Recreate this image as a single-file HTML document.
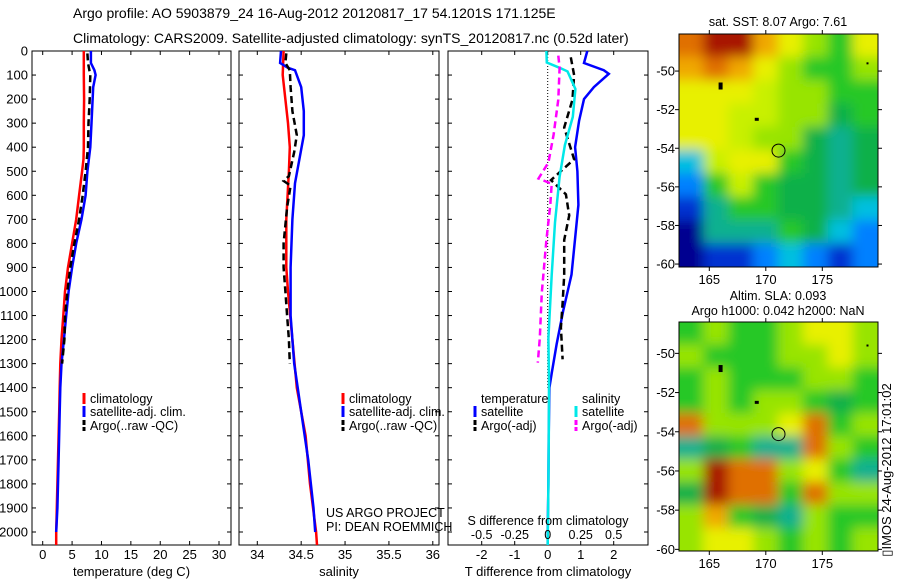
<!DOCTYPE html>
<html><head><meta charset="utf-8">
<style>
html,body{margin:0;padding:0;background:#fff;}
svg{display:block;font-family:"Liberation Sans",sans-serif;}
text{fill:#000;}
</style></head>
<body>
<svg id="fig" width="900" height="580" viewBox="0 0 900 580" xmlns="http://www.w3.org/2000/svg">
<defs>
<filter id="blur" x="-20%" y="-20%" width="140%" height="140%"><feGaussianBlur stdDeviation="6"/></filter>
<clipPath id="clipTop"><rect x="679" y="34" width="199" height="233"/></clipPath>
<clipPath id="clipBot"><rect x="679" y="322" width="199" height="229"/></clipPath>
</defs>
<text x="73" y="18" font-size="14">Argo profile: AO 5903879_24 16-Aug-2012 20120817_17 54.1201S 171.125E</text>
<text x="73" y="43" font-size="14">Climatology: CARS2009. Satellite-adjusted climatology: synTS_20120817.nc (0.52d later)</text>
<g id="p1"></g>
<g id="p2"></g>
<g id="p3"></g>
<g id="m1"></g>
<g id="m2"></g>
<text transform="translate(891,470) rotate(-90)" font-size="13" text-anchor="middle">▯IMOS 24-Aug-2012 17:01:02</text>
</svg>
<script>
// ---- data ----
const tClimDepth = [0,100,200,300,400,450,500,600,700,800,900,1000,1100,1200,1300,1400,1500,1700,1900,2000,2054];
const tClimVals  = [7.0,7.0,7.05,7.0,7.0,6.95,6.7,6.2,5.7,5.0,4.3,3.8,3.5,3.2,3.0,2.9,2.8,2.6,2.4,2.3,2.3];
const tSatDepth = [0,50,80,100,150,300,400,500,600,700,800,900,1000,1100,1200,1300,1400,1500,1700,1900,2000];
const tSatVals  = [8.2,8.2,8.8,9.0,8.6,8.3,8.1,7.6,7.3,6.6,5.7,5.0,4.4,4.0,3.6,3.2,3.0,2.9,2.7,2.5,2.3];
const tArgoDepth = [10,50,100,200,300,400,500,600,700,800,900,1000,1100,1200,1300];
const tArgoVals  = [7.6,7.7,8.1,8.0,7.8,7.7,7.3,6.8,6.2,5.4,4.7,4.2,3.8,3.7,3.3];

const sClimDepth = [0,100,300,400,500,700,900,1000,1200,1400,1600,1800,2000,2054];
const sClimVals  = [34.30,34.29,34.35,34.37,34.36,34.33,34.33,34.35,34.40,34.45,34.55,34.60,34.67,34.68];
const sSatDepth = [0,50,70,80,150,250,350,450,550,700,900,1100,1300,1500,1700,1900,2000];
const sSatVals  = [34.27,34.26,34.35,34.43,34.50,34.53,34.53,34.48,34.43,34.40,34.38,34.38,34.42,34.50,34.58,34.64,34.66];
const sArgoDepth = [10,50,80,150,250,350,420,520,540,560,650,800,900,1000,1100,1200,1300];
const sArgoVals  = [34.33,34.32,34.37,34.38,34.40,34.45,34.42,34.36,34.30,34.38,34.34,34.30,34.30,34.32,34.34,34.36,34.37];

const dTSatDepth = [0,50,80,95,150,200,290,400,500,640,750,930,1080,1220,1340,1400,1600,1800,2000,2054];
const dTSatVals  = [1.2,1.1,1.7,1.85,1.4,1.1,0.95,0.83,0.9,0.93,0.85,0.72,0.47,0.27,0.12,0.05,0.03,0.02,0.0,0.0];
const dTArgoDepth = [26,100,202,318,450,537,596,684,786,932,1049,1150,1282];
const dTArgoVals  = [0.7,0.8,0.75,0.5,0.8,0.1,0.55,0.65,0.5,0.5,0.45,0.4,0.45];
const dSSatDepth = [0,48,70,85,158,274,391,523,713,932,1194,1372,1600,1800,2054];
const dSSatVals  = [-0.01,-0.007,0.09,0.15,0.21,0.19,0.13,0.09,0.055,0.03,0.005,0.01,0.008,0.005,0.0];
const dSArgoDepth = [19,70,202,348,464,530,552,640,786,1005,1194,1296];
const dSArgoVals  = [0.08,0.09,0.08,0.045,0.005,-0.07,0.03,0.02,-0.01,-0.045,-0.06,-0.075];

const depthTicks = [0,100,200,300,400,500,600,700,800,900,1000,1100,1200,1300,1400,1500,1600,1700,1800,1900,2000];
const tTicks = [0,5,10,15,20,25,30];
const sTicks = [34,34.5,35,35.5,36];
const sTickLabels = ["34","34.5","35","35.5","36"];
const dTicks = [-2,-1,0,1,2];
const dsTicks = [-0.5,-0.25,0,0.25,0.5];
const lonTicks = [165,170,175];
const latTicks = [-50,-52,-54,-56,-58,-60];

const sstGrid = [
"ORRoYLGY","oOoYLGGL","YYYyLLGG","YYyyLLgG","YYyLLgTg",
"CyYYGgTg","BGyGggTg","bTGGggTC","NTTTGgCB","NbbBCBbB"];
const slaGrid = [
"GLGGLYYL","LGGGLLYL","GLGGGLLG","GLGLLGgG","OLLLYOGL",
"TgGTTOLG","LROOLYGT","gROOGOLL","LoGgTLGG","LYYLGLGL"];
const palette = {R:"#a81800",O:"#e07000",o:"#f0a800",Y:"#e8f000",y:"#c8f000",L:"#98e400",G:"#28c828",g:"#10b048",T:"#10b090",C:"#00c0e0",B:"#0080ff",b:"#0030d0",N:"#000090"};

// ---- helpers ----
const NS="http://www.w3.org/2000/svg";
function mk(parent,tag,attrs,txt){const e=document.createElementNS(NS,tag);for(const k in attrs)e.setAttribute(k,attrs[k]);if(txt!==undefined)e.textContent=txt;parent.appendChild(e);return e;}
const Y0=51, YS=0.2405, YB=545;
const yD = d => Y0 + d*YS;
const xT = t => 42.7 + t*5.877;
const xS = s => 257.3 + (s-34)*87.75;
const xD = t => 547.7 + t*33;
const xDs = s => 547.7 + s*132;

function pts(depths, vals, fx){return depths.map((d,i)=>fx(vals[i]).toFixed(1)+","+yD(d).toFixed(1)).join(" ");}

function panel(g,x0,x1,leftLabels,xticks,fx,xlabels,xtitle){
  const b=mk(g,"rect",{x:x0,y:Y0,width:x1-x0,height:YB-Y0,fill:"none",stroke:"#000","stroke-width":1});
  
  
  depthTicks.forEach(d=>{
    mk(g,"line",{x1:x0,x2:x0+4,y1:yD(d),y2:yD(d),stroke:"#000"});
    mk(g,"line",{x1:x1,x2:x1-4,y1:yD(d),y2:yD(d),stroke:"#000"});
    if(leftLabels){const t=mk(g,"text",{x:x0-4,y:yD(d)+4.5,"font-size":13,"text-anchor":"end"},String(d));
      
      }
  });
  xticks.forEach((v,i)=>{
    const x=fx(v);
    mk(g,"line",{x1:x,x2:x,y1:YB,y2:YB-4,stroke:"#000"});
    mk(g,"line",{x1:x,x2:x,y1:Y0,y2:Y0+4,stroke:"#000"});
    const t=mk(g,"text",{x:x,y:559,"font-size":13,"text-anchor":"middle"},xlabels[i]);
    
    
  });
  const tt=mk(g,"text",{x:(x0+x1)/2,y:576,"font-size":13,"text-anchor":"middle"},xtitle);
  
  
}
function line(g,name,p,color,dash,w){
  const a={points:p,fill:"none",stroke:color,"stroke-width":w||2.5,"stroke-linejoin":"miter"};
  if(dash)a["stroke-dasharray"]=dash;
  const l=mk(g,"polyline",a);
  
  
}
function legend(g,x,y,color,dash,label){
  const l=mk(g,"line",{x1:x,x2:x,y1:y-10,y2:y+1,stroke:color,"stroke-width":3});
  if(dash)l.setAttribute("stroke-dasharray","5,2");
  const t=mk(g,"text",{x:x+6,y:y,"font-size":12.5},label);
  
  
}

// panel 1
const p1=document.getElementById("p1");
panel(p1,32,231,true,tTicks,xT,tTicks.map(String),"temperature (deg C)");
line(p1,"temperature-climatology-line",pts(tClimDepth,tClimVals,xT),"#ff0000");
line(p1,"temperature-satellite-line",pts(tSatDepth,tSatVals,xT),"#0000ff");
line(p1,"temperature-argo-line",pts(tArgoDepth,tArgoVals,xT),"#000","7,4");
legend(p1,84,403,"#ff0000",null,"climatology");
legend(p1,84,416,"#0000ff",null,"satellite-adj. clim.");
legend(p1,84,430,"#000","dash","Argo(..raw -QC)");

// panel 2
const p2=document.getElementById("p2");
panel(p2,239,439,false,sTicks,xS,sTickLabels,"salinity");
line(p2,"salinity-climatology-line",pts(sClimDepth,sClimVals,xS),"#ff0000");
line(p2,"salinity-satellite-line",pts(sSatDepth,sSatVals,xS),"#0000ff");
line(p2,"salinity-argo-line",pts(sArgoDepth,sArgoVals,xS),"#000","7,4");
legend(p2,343,403,"#ff0000",null,"climatology");
legend(p2,343,416,"#0000ff",null,"satellite-adj. clim.");
legend(p2,343,430,"#000","dash","Argo(..raw -QC)");
mk(p2,"text",{x:326,y:517,"font-size":12.5},"US ARGO PROJECT");
mk(p2,"text",{x:326,y:531,"font-size":12.5},"PI: DEAN ROEMMICH");

// panel 3
const p3=document.getElementById("p3");
panel(p3,448,648,false,dTicks,xD,dTicks.map(String),"T difference from climatology");
mk(p3,"line",{x1:xD(0),x2:xD(0),y1:Y0,y2:yD(1400),stroke:"#000","stroke-width":1,"stroke-dasharray":"1,2"});
line(p3,"dT-satellite-line",pts(dTSatDepth,dTSatVals,xD),"#0000ff");
line(p3,"dT-argo-line",pts(dTArgoDepth,dTArgoVals,xD),"#000","7,4");
line(p3,"dS-satellite-line",pts(dSSatDepth,dSSatVals,xDs),"#00e8e8");
line(p3,"dS-argo-line",pts(dSArgoDepth,dSArgoVals,xDs),"#ff00ff","7,4");
mk(p3,"text",{x:481,y:403,"font-size":12.5},"temperature");
mk(p3,"text",{x:582,y:403,"font-size":12.5},"salinity");
legend(p3,475,416,"#0000ff",null,"satellite");
legend(p3,475,430,"#000","dash","Argo(-adj)");
legend(p3,576,416,"#00e8e8",null,"satellite");
legend(p3,576,430,"#ff00ff","dash","Argo(-adj)");
const st=mk(p3,"text",{x:548,y:525,"font-size":12.5,"text-anchor":"middle"},"S difference from climatology");


dsTicks.forEach(s=>{const t=mk(p3,"text",{x:xDs(s),y:539,"font-size":12.5,"text-anchor":"middle"},String(s));
  
  });

// maps
function map(gid,grid,y0,y1,latTop,latScale,clip,titles){
  const g=document.getElementById(gid);
  const x0=679,x1=878;
  const xL = lon => 709.3 + (lon-165)*11.3;
  const yL = lat => y0 + (latTop-lat)*latScale;
  const cg=mk(g,"g",{"clip-path":"url(#"+clip+")"});
  const fg=mk(cg,"g",{filter:"url(#blur)"});
  const rows=grid.length, cols=grid[0].length;
  const cw=(x1-x0)/cols, ch=(y1-y0)/rows;
  const pad=20;
  for(let r=0;r<rows;r++)for(let c=0;c<cols;c++){
    let x=x0+c*cw-0.5, y=y0+r*ch-0.5, w=cw+1, h=ch+1;
    if(c===0){x-=pad;w+=pad;} if(c===cols-1){w+=pad;}
    if(r===0){y-=pad;h+=pad;} if(r===rows-1){h+=pad;}
    mk(fg,"rect",{x:x,y:y,width:w,height:h,fill:palette[grid[r][c]]});
  }
  mk(g,"rect",{x:x0,y:y0,width:x1-x0,height:y1-y0,fill:"none",stroke:"#000"});
  lonTicks.forEach(l=>{const x=xL(l);
    mk(g,"line",{x1:x,x2:x,y1:y1,y2:y1+4,stroke:"#000"});
    mk(g,"line",{x1:x,x2:x,y1:y0,y2:y0-4,stroke:"#000"});
    const t=mk(g,"text",{x:x,y:y1+17,"font-size":13,"text-anchor":"middle"},String(l));
    
    });
  latTicks.forEach(l=>{const y=yL(l);
    mk(g,"line",{x1:x0,x2:x0-4,y1:y,y2:y,stroke:"#000"});
    mk(g,"line",{x1:x1,x2:x1+4,y1:y,y2:y,stroke:"#000"});
    const t=mk(g,"text",{x:x0-4,y:y+4.5,"font-size":13,"text-anchor":"end"},String(l));
    
    });
  mk(g,"circle",{cx:xL(171.125),cy:yL(-54.12),r:6.5,fill:"none",stroke:"#000","stroke-width":1});
  mk(g,"rect",{x:xL(166)-2,y:yL(-50.8)-4,width:4,height:7,fill:"#000"});
  mk(g,"rect",{x:xL(169.2)-2,y:yL(-52.5)-1.5,width:4,height:3,fill:"#000"});
  mk(g,"rect",{x:xL(179)-1,y:yL(-49.6)-1,width:2,height:2,fill:"#000"});
  titles.forEach(tt=>{const t=mk(g,"text",{x:778,y:tt[1],"font-size":12.5,"text-anchor":"middle"},tt[0]);
    
    });
}
map("m1",sstGrid,34,267,-48.08,19.3,"clipTop",[["sat. SST: 8.07 Argo: 7.61",26]]);
map("m2",slaGrid,322,551,-48.4,19.6,"clipBot",[["Altim. SLA: 0.093",300],["Argo h1000: 0.042 h2000: NaN",315]]);
</script>
</body></html>
